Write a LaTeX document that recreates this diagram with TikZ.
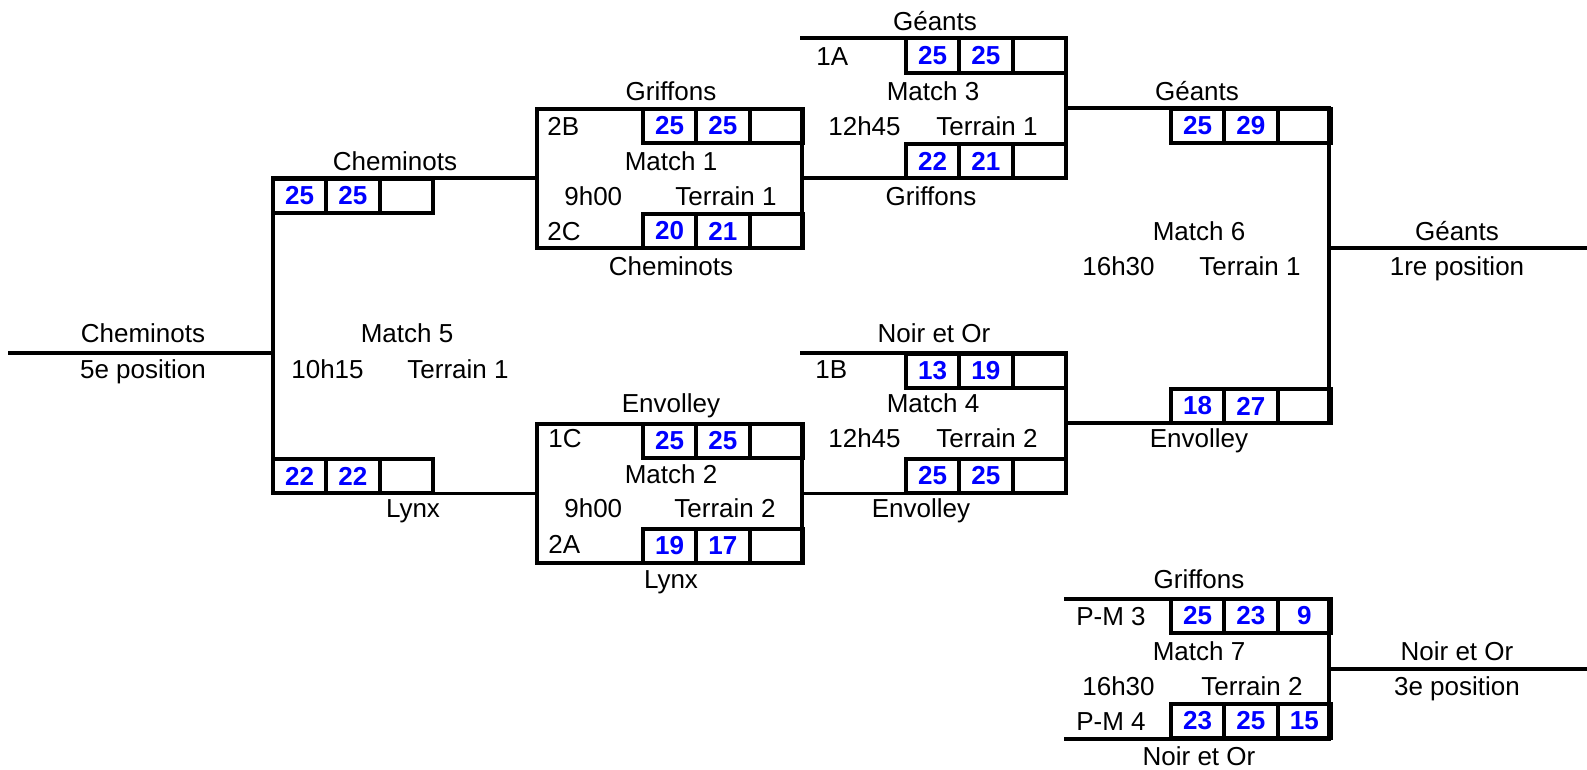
\documentclass[tikz,border=0pt]{standalone}
\usepackage{fontspec}
\setmainfont{Liberation Sans}
\newcommand\txtfont{\fontsize{14.8}{17}\selectfont}
% three score cells: name, left x, top y, a, b, c
\newcommand\scorecells[6]{%
  \node[cell] (#1a) at ({#2+26.65},{#3+17.5}) {#4};
  \node[cell] (#1b) at ({#2+79.95},{#3+17.5}) {#5};
  \node[cell] (#1c) at ({#2+133.25},{#3+17.5}) {#6};
}
% baseline of text row
\newcommand\rowy[1]{30+35*#1+ifthenelse(#1<8,1,ifthenelse(#1<17,-2,0))}
% label: name, x, row, text (centred)
\newcommand\labc[4]{\node[lab] (#1) at (#2,{\rowy{#3}}) {#4};}
% label: name, x, row, text (left aligned)
\newcommand\labw[4]{\node[labw] (#1) at (#2,{\rowy{#3}}) {#4};}
\tikzset{
  wire/.style={line width=0.08cm, line cap=rect, line join=miter},
  cell/.style={draw, line width=0.08cm, minimum width=1.066cm, minimum height=0.7cm,
    inner sep=0pt, outer sep=0pt, text=blue, font=\txtfont\bfseries},
  bracket/.style={draw, line width=0.08cm, inner sep=0pt, outer sep=0pt,
    minimum width=5.3cm, minimum height=2.8cm},
  lab/.style={inner sep=0pt, anchor=base, font=\txtfont},
  labw/.style={inner sep=0pt, anchor=base west, font=\txtfont},
}
\begin{document}
\begin{tikzpicture}[x=0.02cm,y=-0.02cm]
\useasboundingbox (0,0) rectangle (1587,770);

% ---------- Match 1 and Match 2 boxes
\node[bracket] (m1) at (669.5,178.5) {};
\node[bracket] (m2) at (669.5,493.5) {};

% ---------- Match 5
\coordinate (m5tl) at (273,178.5);
\coordinate (m5bl) at (273,493.5);
\coordinate (m5o) at (273,353.5);
\coordinate (out5) at (10,353.5);
\draw[wire] (m1.west) -- (m5tl) -- (m5bl) -- (m2.west);
\draw[wire] (m5o) -- (out5);

% ---------- Match 3
\coordinate (m3tl) at (802,38.5);
\coordinate (m3tr) at (1066,38.5);
\coordinate (m3o) at (1066,108.5);
\draw[wire] (m3tl) -- (m3tr) -- (1066,178.5) -- (m1.east);

% ---------- Match 4
\coordinate (m4tl) at (802,353.5);
\coordinate (m4tr) at (1066,353.5);
\coordinate (m4o) at (1066,423.5);
\draw[wire] (m4tl) -- (m4tr) -- (1066,493.5) -- (m2.east);

% ---------- Match 6
\coordinate (m6tr) at (1329,108.5);
\coordinate (m6br) at (1329,423.5);
\coordinate (m6o) at (1329,248.5);
\coordinate (out6) at (1587,248.5);
\draw[wire] (m3o) -- (m6tr) -- (m6br) -- (m4o);
\draw[wire] (m6o) -- (out6);

% ---------- Match 7
\coordinate (m7tl) at (1066,598.5);
\coordinate (m7tr) at (1329,598.5);
\coordinate (m7br) at (1329,738.5);
\coordinate (m7bl) at (1066,738.5);
\coordinate (m7o) at (1329,668.5);
\coordinate (out7) at (1587,668.5);
\draw[wire] (m7tl) -- (m7tr) -- (m7br) -- (m7bl);
\draw[wire] (m7o) -- (out7);

% ---------- score cells
\scorecells{s5t}{273}{178.5}{25}{25}{}
\scorecells{s5b}{273}{458.5}{22}{22}{}
\scorecells{s1t}{643}{108.5}{25}{25}{}
\scorecells{s1b}{643}{213.5}{20}{21}{}
\scorecells{s2t}{643}{423.5}{25}{25}{}
\scorecells{s2b}{643}{528.5}{19}{17}{}
\scorecells{s3t}{906}{38.5}{25}{25}{}
\scorecells{s3b}{906}{143.5}{22}{21}{}
\scorecells{s4t}{906}{353.5}{13}{19}{}
\scorecells{s4b}{906}{458.5}{25}{25}{}
\scorecells{s6t}{1171}{108.5}{25}{29}{}
\scorecells{s6b}{1171}{388.5}{18}{27}{}
\scorecells{s7t}{1171}{598.5}{25}{23}{9}
\scorecells{s7b}{1171}{703.5}{23}{25}{15}

% ---------- labels
\labc{a1}{935}{0}{Géants}
\labw{a2}{816}{1}{1A}
\labc{a3}{933}{2}{Match 3}
\labw{a4}{828}{3}{12h45}
\labc{a5}{987}{3}{Terrain 1}
\labc{a6}{931}{5}{Griffons}

\labc{b1}{671}{2}{Griffons}
\labw{b2}{547}{3}{2B}
\labc{b3}{671}{4}{Match 1}
\labw{b4}{564}{5}{9h00}
\labc{b5}{726}{5}{Terrain 1}
\labw{b6}{547}{6}{2C}
\labc{b7}{671}{7}{Cheminots}

\labc{c1}{395}{4}{Cheminots}
\labc{c2}{407}{9}{Match 5}
\labw{c3}{291}{10}{10h15}
\labc{c4}{458}{10}{Terrain 1}
\labc{c5}{413}{14}{Lynx}
\labc{c6}{143}{9}{Cheminots}
\labc{c7}{143}{10}{5e position}

\labc{d1}{934}{9}{Noir et Or}
\labw{d2}{815}{10}{1B}
\labc{d3}{933}{11}{Match 4}
\labw{d4}{828}{12}{12h45}
\labc{d5}{987}{12}{Terrain 2}
\labc{d6}{921}{14}{Envolley}

\labc{e1}{671}{11}{Envolley}
\labw{e2}{548}{12}{1C}
\labc{e3}{671}{13}{Match 2}
\labw{e4}{564}{14}{9h00}
\labc{e5}{725}{14}{Terrain 2}
\labw{e6}{548}{15}{2A}
\labc{e7}{671}{16}{Lynx}

\labc{f1}{1197}{2}{Géants}
\labc{f2}{1199}{6}{Match 6}
\labw{f3}{1082}{7}{16h30}
\labc{f4}{1250}{7}{Terrain 1}
\labc{f5}{1199}{12}{Envolley}
\labc{f6}{1457}{6}{Géants}
\labc{f7}{1457}{7}{1re position}

\labc{g1}{1199}{16}{Griffons}
\labc{g2}{1111}{17}{P-M 3}
\labc{g3}{1199}{18}{Match 7}
\labw{g4}{1082}{19}{16h30}
\labc{g5}{1252}{19}{Terrain 2}
\labc{g6}{1111}{20}{P-M 4}
\labc{g7}{1199}{21}{Noir et Or}
\labc{g8}{1457}{18}{Noir et Or}
\labc{g9}{1457}{19}{3e position}
\end{tikzpicture}
\end{document}
